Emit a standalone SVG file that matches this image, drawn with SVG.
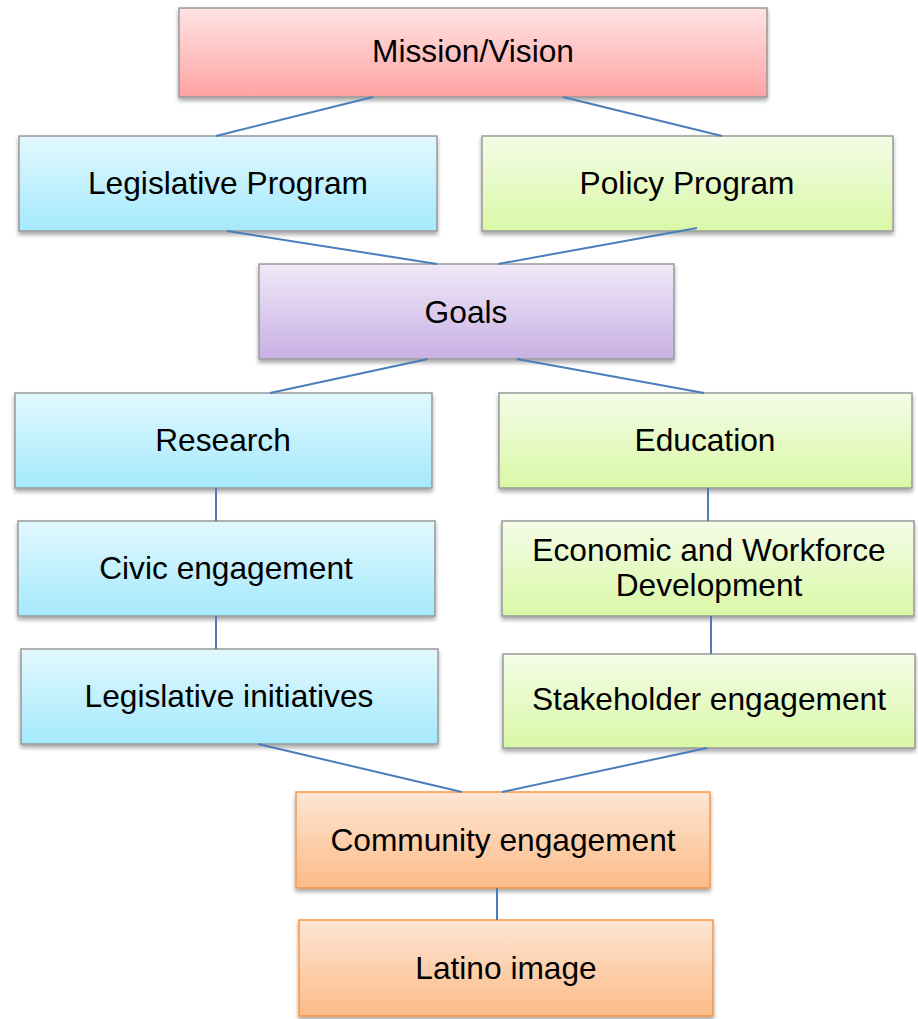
<svg xmlns="http://www.w3.org/2000/svg" width="918" height="1019" viewBox="0 0 918 1019">
<defs>
<linearGradient id="gRed" x1="0" y1="0" x2="0" y2="1"><stop offset="0" stop-color="#ffe3e3"/><stop offset="1" stop-color="#ffa3a3"/></linearGradient>
<linearGradient id="gBlue" x1="0" y1="0" x2="0" y2="1"><stop offset="0" stop-color="#e2f8fe"/><stop offset="1" stop-color="#a4e9fc"/></linearGradient>
<linearGradient id="gGreen" x1="0" y1="0" x2="0" y2="1"><stop offset="0" stop-color="#f4fce7"/><stop offset="1" stop-color="#d9f8a6"/></linearGradient>
<linearGradient id="gPurple" x1="0" y1="0" x2="0" y2="1"><stop offset="0" stop-color="#f0e9f8"/><stop offset="1" stop-color="#c8b0e3"/></linearGradient>
<linearGradient id="gOrange" x1="0" y1="0" x2="0" y2="1"><stop offset="0" stop-color="#fee6d4"/><stop offset="1" stop-color="#fbbb88"/></linearGradient>
<filter id="sh" x="-5%" y="-10%" width="110%" height="130%"><feDropShadow dx="0" dy="3" stdDeviation="2" flood-color="#000" flood-opacity="0.35"/></filter>
</defs>
<style>
.box{stroke:#999999;stroke-width:1.5;filter:url(#sh)}
.ob{stroke:#f79646;stroke-width:1.5;filter:url(#sh)}
text{font-family:"Liberation Sans",Arial,sans-serif;font-size:31.7px;fill:#000;text-anchor:middle}
.con line{stroke:#4a7ebb;stroke-width:2}
</style>
<g id="mission"><rect class="box" x="179" y="8" width="588" height="89" fill="url(#gRed)"/><text x="473" y="62">Mission/Vision</text></g>
<g id="legislative-program"><rect class="box" x="19" y="136" width="418" height="95" fill="url(#gBlue)"/><text x="228" y="194">Legislative Program</text></g>
<g id="policy-program"><rect class="box" x="482" y="136" width="411" height="95" fill="url(#gGreen)"/><text x="687" y="194">Policy Program</text></g>
<g id="goals"><rect class="box" x="259" y="264" width="415" height="95" fill="url(#gPurple)"/><text x="466" y="323">Goals</text></g>
<g id="research"><rect class="box" x="15" y="393" width="417" height="95" fill="url(#gBlue)"/><text x="223" y="451">Research</text></g>
<g id="education"><rect class="box" x="499" y="393" width="413" height="95" fill="url(#gGreen)"/><text x="705" y="451">Education</text></g>
<g id="civic"><rect class="box" x="18" y="521" width="417" height="95" fill="url(#gBlue)"/><text x="226" y="579">Civic engagement</text></g>
<g id="economic"><rect class="box" x="502" y="521" width="412" height="95" fill="url(#gGreen)"/><text x="709" y="561">Economic and Workforce</text><text x="709" y="596">Development</text></g>
<g id="legislative-initiatives"><rect class="box" x="21" y="649" width="417" height="95" fill="url(#gBlue)"/><text x="229" y="707">Legislative initiatives</text></g>
<g id="stakeholder"><rect class="box" x="503" y="654" width="412" height="94" fill="url(#gGreen)"/><text x="709" y="710">Stakeholder engagement</text></g>
<g id="community"><rect class="ob" x="296" y="792" width="414" height="96" fill="url(#gOrange)"/><text x="503" y="851">Community engagement</text></g>
<g id="latino"><rect class="ob" x="299" y="920" width="414" height="96" fill="url(#gOrange)"/><text x="506" y="979">Latino image</text></g>
<g class="con" id="connectors">
<line x1="373" y1="97" x2="216" y2="136"/>
<line x1="563" y1="97" x2="722" y2="136"/>
<line x1="227" y1="231" x2="437" y2="264"/>
<line x1="697" y1="228" x2="498" y2="264"/>
<line x1="428" y1="359" x2="270" y2="393"/>
<line x1="517" y1="359" x2="704" y2="393"/>
<line x1="216" y1="488" x2="216" y2="521"/>
<line x1="708" y1="488" x2="708" y2="521"/>
<line x1="216" y1="616" x2="216" y2="649"/>
<line x1="711" y1="616" x2="711" y2="654"/>
<line x1="258" y1="744" x2="462" y2="792"/>
<line x1="707" y1="748" x2="502" y2="792"/>
<line x1="497" y1="888" x2="497" y2="920"/>
</g>
</svg>
